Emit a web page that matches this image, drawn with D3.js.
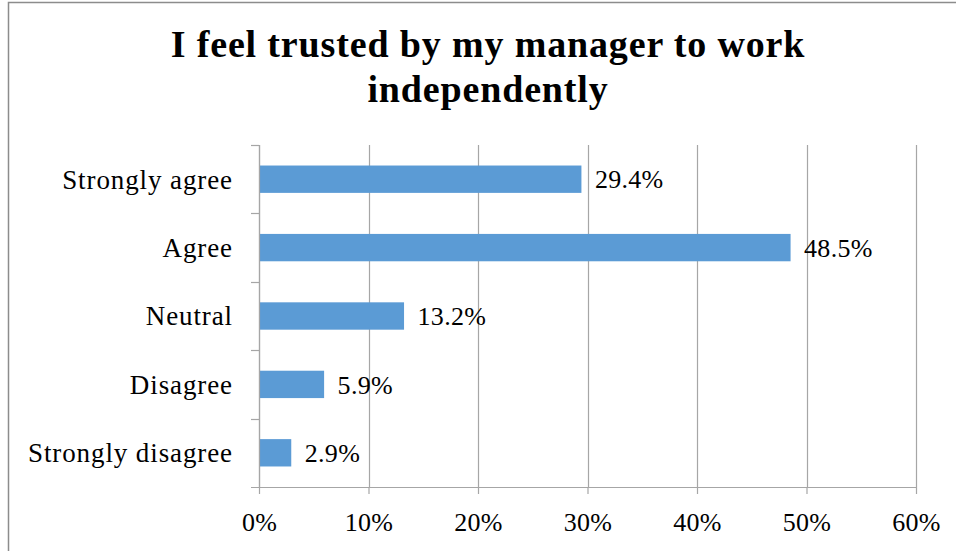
<!DOCTYPE html>
<html>
<head>
<meta charset="utf-8">
<script src="https://cdn.jsdelivr.net/npm/d3@7"></script>
<style>
  html, body { margin: 0; padding: 0; background: #fff; }
  svg { display: block; }
  text { font-family: "Liberation Serif", serif; fill: #000; }
</style>
</head>
<body>
<svg id="chart" width="956" height="551"></svg>
<script>
// Survey responses
const categories = ["Strongly agree", "Agree", "Neutral", "Disagree", "Strongly disagree"];
const values = [29.4, 48.5, 13.2, 5.9, 2.9];
const xTicks = [0, 10, 20, 30, 40, 50, 60];
const titleLines = ["I feel trusted by my manager to work", "independently"];

const svg = d3.select("#chart");
const W = 956, H = 551;
const margin = { left: 259, top: 145 };
const plotW = 916 - margin.left;
const plotH = 487 - margin.top;

// Chart frame
svg.append("rect")
  .attr("x", 8.5).attr("y", 2.5)
  .attr("width", W + 10).attr("height", H + 10)
  .attr("fill", "none").attr("stroke", "#8c8c8c").attr("stroke-width", 1.5);

// Title
svg.append("text")
  .attr("text-anchor", "middle")
  .attr("font-weight", "bold").attr("font-size", 38)
  .attr("letter-spacing", 0.85)
  .selectAll("tspan").data(titleLines).join("tspan")
  .attr("x", 488).attr("y", (d, i) => 57 + i * 45)
  .text(d => d);

const g = svg.append("g").attr("transform", `translate(${margin.left},${margin.top})`);

const x = d3.scaleLinear().domain([0, 60]).range([0, plotW]);
const y = d3.scaleBand().domain(categories).range([0, plotH]).paddingInner(0.6).paddingOuter(0.3);

// Vertical gridlines
g.selectAll(".grid").data(xTicks).join("line")
  .attr("x1", d => Math.round(x(d)) + 0.5).attr("x2", d => Math.round(x(d)) + 0.5)
  .attr("y1", 0).attr("y2", plotH)
  .attr("stroke", "#a6a6a6").attr("stroke-width", 1.2);

// Bars
g.selectAll(".bar").data(values).join("rect")
  .attr("x", x(0) + 0.5)
  .attr("y", (d, i) => y(categories[i]))
  .attr("width", d => x(d) - x(0))
  .attr("height", y.bandwidth())
  .attr("fill", "#5b9bd5");

// Value labels
g.selectAll(".val").data(values).join("text")
  .attr("x", d => x(d) + 14)
  .attr("y", (d, i) => y(categories[i]) + y.bandwidth() / 2)
  .attr("dy", "0.35em")
  .attr("font-size", 26)
  .attr("letter-spacing", 0.3)
  .text(d => d.toFixed(1) + "%");

// X axis
const xAxis = d3.axisBottom(x).tickValues(xTicks).tickFormat(d => d + "%").tickSize(7).tickPadding(19);
const xa = g.append("g").attr("transform", `translate(0,${plotH})`).call(xAxis);
xa.attr("font-family", null).attr("font-size", null);
xa.select(".domain").attr("stroke", "#a6a6a6").attr("stroke-width", 1.2).attr("d", `M${x(0) - 8},0.5H${x(60) + 0.5}`);
xa.selectAll(".tick line").attr("stroke", "#a6a6a6").attr("stroke-width", 1.2);
xa.selectAll(".tick text").attr("font-size", 26).attr("letter-spacing", 0.3).attr("fill", "#000");

// Y axis with category dividers
const ya = g.append("g");
ya.append("line").attr("x1", 0.5).attr("x2", 0.5).attr("y1", 0).attr("y2", plotH)
  .attr("stroke", "#a6a6a6").attr("stroke-width", 1.2);
const step = plotH / categories.length;
ya.selectAll(".div").data(d3.range(categories.length)).join("line")
  .attr("x1", -8).attr("x2", 0)
  .attr("y1", d => Math.round(d * step) + 0.5).attr("y2", d => Math.round(d * step) + 0.5)
  .attr("stroke", "#a6a6a6").attr("stroke-width", 1.2);
ya.selectAll(".cat").data(categories).join("text")
  .attr("x", -26)
  .attr("y", d => y(d) + y.bandwidth() / 2)
  .attr("dy", "0.35em")
  .attr("text-anchor", "end")
  .attr("font-size", 27)
  .attr("letter-spacing", 0.9)
  .text(d => d);
</script>
</body>
</html>
